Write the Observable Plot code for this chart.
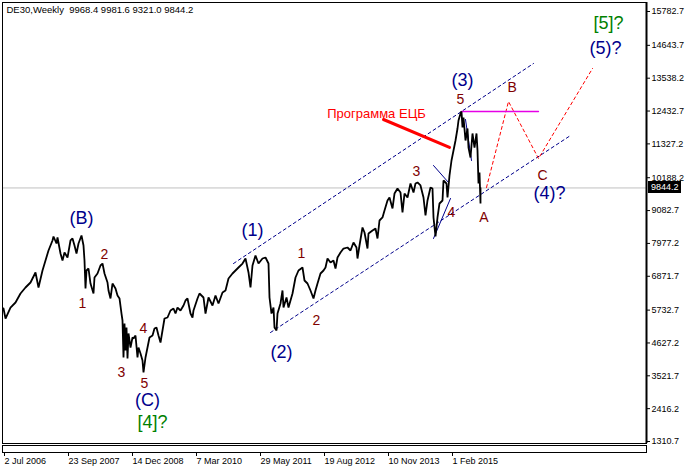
<!DOCTYPE html>
<html><head><meta charset="utf-8">
<script src="https://cdn.jsdelivr.net/npm/d3@7"></script>
<script src="https://cdn.jsdelivr.net/npm/@observablehq/plot@0.6"></script>
<style>
body{margin:0;background:#fff;}
#chart{position:relative;width:686px;height:470px;overflow:hidden;}
#chart svg{display:block;}
#price{position:absolute;left:648px;width:33px;height:12px;background:#000;color:#fff;
  font:9px 'Liberation Sans', Arial, sans-serif;line-height:12px;padding-left:3px;box-sizing:border-box;}
</style></head><body><div id="chart"><div id="price"></div></div>
<script>
// ---- data (weeks since the bar of 2 Jul 2006, price) ----
const title = "DE30,Weekly  9968.4 9981.6 9321.0 9844.2";
const lastClose = 9844.2;
const weeks = [0,2,7,12,17,22,27,32,35,39,42,45,49,50,53,54,57,59,61,64,67,69,71,73,75,78,80,81,82,83,85,87,90,91,94,97,99,101,104,105,107,109,112,114,116,118,119,120,121,122,123,124,125,127,129,130,132,134,135,137,139,140,142,144,146,149,151,153,155,157,159,161,164,167,170,172,174,177,180,182,184,187,189,190,194,196,200,202,205,209,212,215,219,222,225,229,232,235,239,242,245,247,249,252,255,259,262,265,266,268,270,271,273,274,277,279,280,283,285,289,292,295,299,301,304,307,310,312,314,317,320,322,324,327,330,332,334,337,340,344,347,350,353,354,356,359,361,364,365,369,372,374,376,379,381,384,386,389,391,394,397,399,401,404,407,410,412,414,417,420,422,424,427,429,430,432,434,436,439,440,443,444,446,448,450,452,454,455,457,458,459,460,462,464,465,467,469,471,473,474,475,476,477,477];
const prices = [5787,5450,5820,5989,6292,6494,6662,6999,6494,7066,7402,7739,8076,8210,7975,8177,7638,7402,7672,7503,8076,8143,7907,7638,7975,8244,7907,7402,6460,7066,7133,6628,6292,6830,6965,7234,7301,6965,6662,6393,6124,6628,6460,6225,6124,5618,5383,4138,5282,4373,5148,4104,4946,4474,4811,4777,4878,4138,4474,4273,4037,3633,4138,4474,4811,4878,5114,5148,4878,4643,5047,5450,5484,5720,5787,5618,5820,5720,5888,6056,6124,5618,5484,5720,6124,6292,6157,5618,6157,5888,6225,5955,6326,6393,6797,6965,7066,7167,7301,7470,6999,6494,7234,7571,7301,7470,7503,7301,6157,5618,5820,5148,5047,5618,5955,6393,5820,6157,5820,6292,6830,7066,7167,6729,6628,6393,6124,6393,6628,6965,7066,7167,7470,7335,7402,7133,7503,7672,7806,7840,7739,8008,7840,7470,7907,8513,8345,7806,8311,8412,8479,8143,8749,8850,9085,9422,9523,9153,9657,9826,9691,9018,9657,9523,9994,9691,9994,10028,9927,9523,8917,9422,9859,9826,8850,8210,8850,9321,9422,10095,9994,9523,10263,10768,11104,11441,11845,12114,12350,12417,11879,12215,11441,11845,11205,10869,11677,11205,11677,11104,9994,10364,9321,9844];

const yTicks = [15782.7,14643.7,13538.2,12432.7,11327.2,10188.2,9082.7,7977.2,6871.7,5732.7,4627.2,3521.7,2416.2,1310.7];
const xTickDates = ["2006-07-02","2007-09-23","2008-12-14","2010-03-07","2011-05-29","2012-08-19","2013-11-10","2015-02-01"];

// annotation lines (weeks, prices)
const upperChannelW = [230, 530], upperChannelP = [7301, 14033];
const lowerChannelW = [267, 567], lowerChannelP = [4979, 11609];
const projectionW = [483, 505, 535, 589], projectionP = [9859, 12754, 10835, 13864];
const peakLevelW = [458, 535], peakLevelP = [12417, 12417];
const ecbW = [380, 446], ecbP = [12148, 11206];
const tri1W = [430, 445], tri1P = [10600, 10028];
const tri2W = [430, 447], tri2P = [8143, 9489];
const tri3W = [462, 468], tri3P = [12148, 10768];

// wave labels
const minorText = ["1","2","3","4","5","1","2","3","4","5","A","B","C"];
const minorW = [79,101,118,140,141,298,313,413,448,457,480.5,508.7,539];
const minorP = [5955,7620,3633,5114,3263,7638,5383,10398,9018,12821,8850,13225,10263];
const interText = ["(B)","(C)","(1)","(2)","(3)","(4)?","(5)?"];
const interW = [78,144,249,278,459,546,602];
const interP = [8816,2691,8412,4306,13460,9657,14537];
const primaryText = ["[4]?","[5]?"];
const primaryW = [149,605];
const primaryP = [1950,15379];
const ecbText = "Программа ЕЦБ";
const ecbTextW = 373, ecbTextP = 12350;

// ---- build ----
const start = new Date(Date.UTC(2006, 6, 2));
const wk = w => new Date(start.getTime() + w * 7 * 864e5);
const pts = (W, P) => W.map((w, i) => ({date: wk(w), price: P[i]}));
const series = pts(weeks, prices);
const xDomain = [wk(-1), wk(643)];
const font = "'Liberation Sans', Arial, sans-serif";
const navy = "#00008b", maroon = "#800000", green = "#008000";
const lbl = (T, W, P) => T.map((t, i) => ({text: t, date: wk(W[i]), price: P[i]}));

const main = Plot.plot({
  width: 686, height: 444,
  marginLeft: 2, marginRight: 40, marginTop: 2, marginBottom: 1,
  style: {fontFamily: font, background: "white", overflow: "visible"},
  x: {type: "utc", domain: xDomain, axis: null, label: null},
  y: {domain: [1243.4, 16085.6], axis: null, label: null},
  marks: [
    Plot.ruleY([lastClose], {stroke: "#c0c0c0"}),
    Plot.line(pts(upperChannelW, upperChannelP), {x: "date", y: "price", stroke: navy, strokeWidth: 1, strokeDasharray: "3,3"}),
    Plot.line(pts(lowerChannelW, lowerChannelP), {x: "date", y: "price", stroke: navy, strokeWidth: 1, strokeDasharray: "3,3"}),
    Plot.line(pts(projectionW, projectionP), {x: "date", y: "price", stroke: "red", strokeWidth: 1, strokeDasharray: "3,3"}),
    Plot.line(pts(peakLevelW, peakLevelP), {x: "date", y: "price", stroke: "#e600e6", strokeWidth: 1.3}),
    Plot.line(pts(tri1W, tri1P), {x: "date", y: "price", stroke: navy, strokeWidth: 1}),
    Plot.line(pts(tri2W, tri2P), {x: "date", y: "price", stroke: navy, strokeWidth: 1}),
    Plot.line(pts(tri3W, tri3P), {x: "date", y: "price", stroke: navy, strokeWidth: 1}),
    Plot.line(series, {x: "date", y: "price", stroke: "black", strokeWidth: 1.8, strokeLinejoin: "miter"}),
    Plot.line(pts(ecbW, ecbP), {x: "date", y: "price", stroke: "red", strokeWidth: 3}),
    Plot.text(lbl(minorText, minorW, minorP), {x: "date", y: "price", text: "text", fill: maroon, fontSize: 14}),
    Plot.text(lbl(interText, interW, interP), {x: "date", y: "price", text: "text", fill: navy, fontSize: 18}),
    Plot.text(lbl(primaryText, primaryW, primaryP), {x: "date", y: "price", text: "text", fill: green, fontSize: 18}),
    Plot.text([{text: ecbText, date: wk(ecbTextW), price: ecbTextP}], {x: "date", y: "price", text: "text", fill: "red", fontSize: 13}),
    Plot.text([title], {frameAnchor: "top-left", dx: 4, dy: 4, textAnchor: "start", lineAnchor: "top", fill: "black", fontSize: 9.5}),
    Plot.frame({stroke: "black"}),
    Plot.ruleX([xDomain[1]], {stroke: "black", strokeWidth: 2}),
    Plot.axisY({anchor: "right", label: null, ticks: yTicks, tickFormat: d => d.toFixed(1), tickSize: 3, tickPadding: 2, fontSize: 9, fill: "black"})
  ]
});

const strip = Plot.plot({
  width: 686, height: 26,
  marginLeft: 2, marginRight: 40, marginTop: 1, marginBottom: 18,
  style: {fontFamily: font, background: "white", overflow: "visible"},
  x: {type: "utc", domain: xDomain, axis: null, label: null},
  y: {domain: [0, 1], axis: null, label: null},
  marks: [
    Plot.frame({stroke: "black"}),
    Plot.axisX({anchor: "bottom", label: null, ticks: xTickDates.map(s => new Date(s + "T00:00:00Z")), tickFormat: d3.utcFormat("%-d %b %Y"), tickSize: 4, tickPadding: 1, textAnchor: "start", dx: 1, fontSize: 9, fill: "black"})
  ]
});

const host = document.getElementById("chart");
host.appendChild(main);
host.appendChild(strip);

// current price box, positioned with the plot's own y scale
const priceBox = document.getElementById("price");
priceBox.textContent = lastClose.toFixed(1);
priceBox.style.top = (main.scale("y").apply(lastClose) - 6) + "px";
</script>
</body></html>
